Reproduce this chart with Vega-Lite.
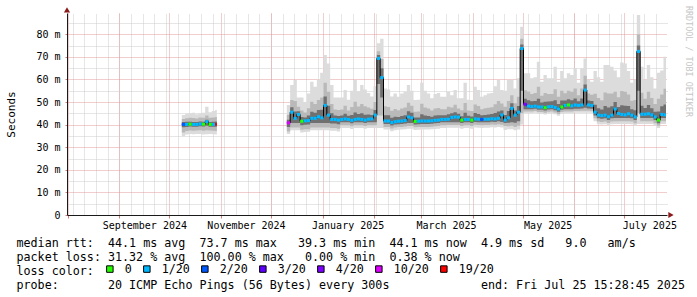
{
  "$schema": "https://vega.github.io/schema/vega-lite/v6.json",
  "width": 600,
  "height": 202,
  "autosize": {"type": "none"},
  "padding": {"left": 67, "top": 13, "right": 30, "bottom": 82},
  "background": "#ffffff",
  "config": {
    "view": {"stroke": null},
    "font": "DejaVu Sans Mono",
    "axis": {"labelFont": "DejaVu Sans Mono", "titleFont": "DejaVu Sans Mono", "titleFontWeight": "normal", "labelColor": "#000000", "titleColor": "#000000"}
  },
  "data": {
    "format": {"parse": {"t": "date"}},
    "values": [
      {"t":"2024-10-08T12:00:00Z","s":1,"m":40.1,"a":34.8,"b":36.5,"c":38.8,"d":41.2,"e":42.5,"f":44.3,"l":"2/20"},
      {"t":"2024-10-10T12:00:00Z","s":1,"m":40.1,"a":35.6,"b":37.2,"c":39.0,"d":41.3,"e":42.8,"f":44.8,"l":"1/20"},
      {"t":"2024-10-12T12:00:00Z","s":1,"m":40.2,"a":35.8,"b":37.4,"c":39.2,"d":41.3,"e":43.0,"f":45.0,"l":"0"},
      {"t":"2024-10-14T12:00:00Z","s":1,"m":40.1,"a":35.7,"b":37.3,"c":39.1,"d":41.2,"e":42.9,"f":45.2,"l":"1/20"},
      {"t":"2024-10-16T12:00:00Z","s":1,"m":40.1,"a":35.9,"b":37.4,"c":39.1,"d":41.2,"e":42.7,"f":44.6,"l":"1/20"},
      {"t":"2024-10-18T12:00:00Z","s":1,"m":40.3,"a":35.8,"b":37.5,"c":39.3,"d":41.4,"e":43.1,"f":45.0,"l":"1/20"},
      {"t":"2024-10-20T12:00:00Z","s":1,"m":40.2,"a":35.6,"b":37.3,"c":39.2,"d":41.3,"e":43.0,"f":45.3,"l":"0"},
      {"t":"2024-10-22T12:00:00Z","s":1,"m":41.3,"a":35.7,"b":37.5,"c":39.5,"d":42.2,"e":44.0,"f":47.9,"l":"1/20"},
      {"t":"2024-10-24T12:00:00Z","s":1,"m":40.1,"a":35.8,"b":37.4,"c":39.1,"d":41.2,"e":43.0,"f":45.5,"l":"0"},
      {"t":"2024-10-26T12:00:00Z","s":1,"m":40.1,"a":35.7,"b":37.3,"c":39.1,"d":41.3,"e":43.2,"f":46.0,"l":"1/20"},
      {"t":"2024-10-28T12:00:00Z","s":1,"m":40.2,"a":35.6,"b":37.2,"c":39.1,"d":41.4,"e":43.4,"f":46.5,"l":"19/20"},
      {"t":"2024-10-29T12:00:00Z","s":1,"m":40.2,"a":35.6,"b":37.2,"c":39.1,"d":41.4,"e":43.4,"f":46.5,"l":"19/20"},
      {"t":"2024-12-10T12:00:00Z","s":2,"m":40.8,"a":35.8,"b":37.0,"c":39.0,"d":42.2,"e":44.4,"f":48.7,"l":"10/20"},
      {"t":"2024-12-12T12:00:00Z","s":2,"m":45.5,"a":37.5,"b":38.7,"c":40.7,"d":47.7,"e":50.9,"f":57.5,"l":"1/20"},
      {"t":"2024-12-14T12:00:00Z","s":2,"m":42.8,"a":37.5,"b":38.7,"c":40.7,"d":45.8,"e":50.4,"f":59.7,"l":"1/20"},
      {"t":"2024-12-16T12:00:00Z","s":2,"m":44.5,"a":37.5,"b":38.7,"c":40.7,"d":45.9,"e":47.9,"f":52.0,"l":"1/20"},
      {"t":"2024-12-18T12:00:00Z","s":2,"m":41.5,"a":36.5,"b":37.7,"c":39.7,"d":43.4,"e":46.2,"f":52.0,"l":"0"},
      {"t":"2024-12-20T12:00:00Z","s":2,"m":41.7,"a":36.7,"b":37.9,"c":39.9,"d":43.2,"e":45.4,"f":50.0,"l":"1/20"},
      {"t":"2024-12-22T12:00:00Z","s":2,"m":41.8,"a":36.8,"b":38.0,"c":40.0,"d":44.0,"e":47.2,"f":53.8,"l":"1/20"},
      {"t":"2024-12-24T12:00:00Z","s":2,"m":42.8,"a":37.5,"b":38.7,"c":40.7,"d":45.7,"e":50.1,"f":59.0,"l":"1/20"},
      {"t":"2024-12-26T12:00:00Z","s":2,"m":42.8,"a":37.5,"b":38.7,"c":40.7,"d":45.3,"e":49.1,"f":56.8,"l":"1/20"},
      {"t":"2024-12-28T12:00:00Z","s":2,"m":43.5,"a":37.5,"b":38.7,"c":40.7,"d":46.5,"e":50.9,"f":60.0,"l":"1/20"},
      {"t":"2024-12-30T12:00:00Z","s":2,"m":43.0,"a":37.5,"b":38.7,"c":40.7,"d":46.6,"e":52.0,"f":63.0,"l":"1/20"},
      {"t":"2025-01-01T12:00:00Z","s":2,"m":48.5,"a":37.5,"b":38.7,"c":40.7,"d":52.5,"e":58.5,"f":70.8,"l":"1/20"},
      {"t":"2025-01-03T12:00:00Z","s":2,"m":44.2,"a":37.5,"b":38.7,"c":40.7,"d":48.3,"e":54.5,"f":67.0,"l":"1/20"},
      {"t":"2025-01-05T12:00:00Z","s":2,"m":42.3,"a":37.3,"b":38.5,"c":40.5,"d":45.0,"e":49.1,"f":57.5,"l":"1/20"},
      {"t":"2025-01-07T12:00:00Z","s":2,"m":42.3,"a":37.3,"b":38.5,"c":40.5,"d":44.0,"e":46.7,"f":52.0,"l":"1/20"},
      {"t":"2025-01-09T12:00:00Z","s":2,"m":42.0,"a":37.0,"b":38.2,"c":40.2,"d":43.8,"e":46.5,"f":52.0,"l":"1/20"},
      {"t":"2025-01-11T12:00:00Z","s":2,"m":42.3,"a":38.5,"b":39.7,"c":41.0,"d":44.0,"e":46.7,"f":52.0,"l":"1/20"},
      {"t":"2025-01-13T12:00:00Z","s":2,"m":42.5,"a":38.5,"b":39.7,"c":41.0,"d":44.8,"e":48.3,"f":55.3,"l":"1/20"},
      {"t":"2025-01-15T12:00:00Z","s":2,"m":42.3,"a":38.5,"b":39.7,"c":41.0,"d":43.9,"e":46.2,"f":51.0,"l":"1/20"},
      {"t":"2025-01-17T12:00:00Z","s":2,"m":41.9,"a":38.1,"b":39.3,"c":40.6,"d":44.3,"e":47.8,"f":55.0,"l":"1/20"},
      {"t":"2025-01-19T12:00:00Z","s":2,"m":42.3,"a":38.5,"b":39.7,"c":41.0,"d":45.4,"e":50.1,"f":59.7,"l":"1/20"},
      {"t":"2025-01-21T12:00:00Z","s":2,"m":42.5,"a":38.5,"b":39.7,"c":41.0,"d":44.7,"e":48.0,"f":54.8,"l":"1/20"},
      {"t":"2025-01-23T12:00:00Z","s":2,"m":42.3,"a":38.5,"b":39.7,"c":41.0,"d":45.0,"e":49.1,"f":57.5,"l":"1/20"},
      {"t":"2025-01-25T12:00:00Z","s":2,"m":42.0,"a":38.2,"b":39.4,"c":40.7,"d":44.4,"e":48.1,"f":55.5,"l":"1/20"},
      {"t":"2025-01-27T12:00:00Z","s":2,"m":42.4,"a":38.5,"b":39.7,"c":41.0,"d":44.5,"e":47.6,"f":54.0,"l":"1/20"},
      {"t":"2025-01-29T12:00:00Z","s":2,"m":42.5,"a":38.5,"b":39.7,"c":41.0,"d":44.3,"e":47.0,"f":52.5,"l":"1/20"},
      {"t":"2025-01-31T12:00:00Z","s":2,"m":44.2,"a":38.5,"b":39.7,"c":41.0,"d":46.5,"e":50.0,"f":57.0,"l":"1/20"},
      {"t":"2025-02-02T12:00:00Z","s":2,"m":69.3,"a":38.5,"b":44.0,"c":58.0,"d":70.8,"e":72.5,"f":76.0,"l":"1/20"},
      {"t":"2025-02-04T12:00:00Z","s":2,"m":60.8,"a":38.5,"b":44.0,"c":52.0,"d":65.0,"e":69.0,"f":78.0,"l":"1/20"},
      {"t":"2025-02-06T12:00:00Z","s":2,"m":41.6,"a":37.8,"b":39.0,"c":40.3,"d":44.2,"e":48.1,"f":56.0,"l":"1/20"},
      {"t":"2025-02-08T12:00:00Z","s":2,"m":41.6,"a":37.8,"b":39.0,"c":40.3,"d":44.1,"e":47.8,"f":55.5,"l":"1/20"},
      {"t":"2025-02-10T12:00:00Z","s":2,"m":40.9,"a":37.1,"b":38.3,"c":39.6,"d":43.0,"e":46.1,"f":52.5,"l":"1/20"},
      {"t":"2025-02-12T12:00:00Z","s":2,"m":41.3,"a":37.5,"b":38.7,"c":40.0,"d":43.5,"e":46.9,"f":53.8,"l":"1/20"},
      {"t":"2025-02-14T12:00:00Z","s":2,"m":41.5,"a":37.7,"b":38.9,"c":40.2,"d":43.4,"e":46.4,"f":52.3,"l":"1/20"},
      {"t":"2025-02-16T12:00:00Z","s":2,"m":41.6,"a":37.8,"b":39.0,"c":40.3,"d":43.8,"e":47.1,"f":53.8,"l":"1/20"},
      {"t":"2025-02-18T12:00:00Z","s":2,"m":41.8,"a":38.0,"b":39.2,"c":40.5,"d":44.1,"e":47.6,"f":54.6,"l":"1/20"},
      {"t":"2025-02-20T12:00:00Z","s":2,"m":43.4,"a":38.2,"b":39.4,"c":40.7,"d":45.9,"e":49.7,"f":57.5,"l":"1/20"},
      {"t":"2025-02-22T12:00:00Z","s":2,"m":43.0,"a":38.2,"b":39.4,"c":40.7,"d":45.2,"e":48.4,"f":55.0,"l":"1/20"},
      {"t":"2025-02-24T12:00:00Z","s":2,"m":41.4,"a":37.6,"b":38.8,"c":40.1,"d":43.1,"e":45.7,"f":50.9,"l":"0"},
      {"t":"2025-02-26T12:00:00Z","s":2,"m":41.5,"a":37.7,"b":38.9,"c":40.2,"d":43.2,"e":45.8,"f":51.0,"l":"1/20"},
      {"t":"2025-02-28T12:00:00Z","s":2,"m":41.6,"a":37.8,"b":39.0,"c":40.3,"d":44.6,"e":49.2,"f":58.5,"l":"1/20"},
      {"t":"2025-03-02T12:00:00Z","s":2,"m":41.6,"a":37.8,"b":39.0,"c":40.3,"d":44.0,"e":47.6,"f":55.0,"l":"1/20"},
      {"t":"2025-03-04T12:00:00Z","s":2,"m":41.6,"a":37.8,"b":39.0,"c":40.3,"d":43.8,"e":47.1,"f":53.8,"l":"1/20"},
      {"t":"2025-03-06T12:00:00Z","s":2,"m":41.7,"a":37.9,"b":39.1,"c":40.4,"d":43.5,"e":46.2,"f":51.7,"l":"1/20"},
      {"t":"2025-03-08T12:00:00Z","s":2,"m":41.9,"a":38.1,"b":39.3,"c":40.6,"d":44.0,"e":47.1,"f":53.5,"l":"1/20"},
      {"t":"2025-03-10T12:00:00Z","s":2,"m":42.0,"a":38.2,"b":39.4,"c":40.7,"d":44.2,"e":47.4,"f":54.0,"l":"1/20"},
      {"t":"2025-03-12T12:00:00Z","s":2,"m":42.3,"a":38.5,"b":39.7,"c":41.0,"d":44.1,"e":46.8,"f":52.3,"l":"1/20"},
      {"t":"2025-03-14T12:00:00Z","s":2,"m":42.3,"a":38.5,"b":39.7,"c":41.0,"d":44.1,"e":46.8,"f":52.3,"l":"1/20"},
      {"t":"2025-03-16T12:00:00Z","s":2,"m":42.4,"a":38.6,"b":39.8,"c":41.1,"d":44.6,"e":47.9,"f":54.6,"l":"1/20"},
      {"t":"2025-03-18T12:00:00Z","s":2,"m":43.2,"a":38.6,"b":39.8,"c":41.1,"d":45.0,"e":47.6,"f":53.0,"l":"1/20"},
      {"t":"2025-03-20T12:00:00Z","s":2,"m":43.4,"a":38.6,"b":39.8,"c":41.1,"d":45.5,"e":48.8,"f":55.3,"l":"1/20"},
      {"t":"2025-03-22T12:00:00Z","s":2,"m":43.3,"a":38.6,"b":39.8,"c":41.1,"d":44.8,"e":47.1,"f":51.7,"l":"1/20"},
      {"t":"2025-03-24T12:00:00Z","s":2,"m":42.0,"a":38.2,"b":39.4,"c":40.7,"d":43.7,"e":46.4,"f":51.7,"l":"0"},
      {"t":"2025-03-26T12:00:00Z","s":2,"m":42.3,"a":38.5,"b":39.7,"c":41.0,"d":45.2,"e":49.6,"f":58.5,"l":"1/20"},
      {"t":"2025-03-28T12:00:00Z","s":2,"m":42.3,"a":38.5,"b":39.7,"c":41.0,"d":43.9,"e":46.2,"f":51.0,"l":"1/20"},
      {"t":"2025-03-30T12:00:00Z","s":2,"m":42.0,"a":38.2,"b":39.4,"c":40.7,"d":43.6,"e":46.0,"f":50.9,"l":"0"},
      {"t":"2025-04-01T12:00:00Z","s":2,"m":42.5,"a":38.7,"b":39.9,"c":41.2,"d":45.1,"e":48.9,"f":56.8,"l":"1/20"},
      {"t":"2025-04-03T12:00:00Z","s":2,"m":42.4,"a":38.6,"b":39.8,"c":41.1,"d":44.7,"e":48.2,"f":55.3,"l":"1/20"},
      {"t":"2025-04-05T12:00:00Z","s":2,"m":42.3,"a":38.5,"b":39.7,"c":41.0,"d":44.1,"e":46.8,"f":52.3,"l":"2/20"},
      {"t":"2025-04-07T12:00:00Z","s":2,"m":42.4,"a":38.6,"b":39.8,"c":41.1,"d":44.3,"e":47.2,"f":53.0,"l":"1/20"},
      {"t":"2025-04-09T12:00:00Z","s":2,"m":42.4,"a":38.6,"b":39.8,"c":41.1,"d":44.5,"e":47.5,"f":53.8,"l":"1/20"},
      {"t":"2025-04-11T12:00:00Z","s":2,"m":42.6,"a":38.8,"b":40.0,"c":41.3,"d":44.7,"e":47.7,"f":54.0,"l":"1/20"},
      {"t":"2025-04-13T12:00:00Z","s":2,"m":42.5,"a":38.7,"b":39.9,"c":41.2,"d":45.1,"e":49.0,"f":57.0,"l":"1/20"},
      {"t":"2025-04-15T12:00:00Z","s":2,"m":42.8,"a":39.0,"b":40.2,"c":41.5,"d":45.8,"e":50.4,"f":59.7,"l":"1/20"},
      {"t":"2025-04-17T12:00:00Z","s":2,"m":44.3,"a":38.7,"b":39.9,"c":41.2,"d":46.3,"e":49.3,"f":55.3,"l":"1/20"},
      {"t":"2025-04-19T12:00:00Z","s":2,"m":42.0,"a":37.6,"b":39.4,"c":40.7,"d":44.3,"e":47.9,"f":55.0,"l":"1/20"},
      {"t":"2025-04-21T12:00:00Z","s":2,"m":43.0,"a":38.0,"b":39.3,"c":40.8,"d":46.0,"e":50.5,"f":59.7,"l":"1/20"},
      {"t":"2025-04-23T12:00:00Z","s":2,"m":47.2,"a":38.0,"b":39.5,"c":41.0,"d":49.5,"e":53.0,"f":60.0,"l":"1/20"},
      {"t":"2025-04-25T12:00:00Z","s":2,"m":44.2,"a":37.5,"b":39.0,"c":40.8,"d":46.3,"e":49.5,"f":56.0,"l":"1/20"},
      {"t":"2025-04-27T12:00:00Z","s":2,"m":45.5,"a":37.8,"b":39.5,"c":41.5,"d":48.2,"e":52.3,"f":60.5,"l":"1/20"},
      {"t":"2025-04-29T12:00:00Z","s":2,"m":73.7,"a":40.0,"b":45.0,"c":55.0,"d":75.5,"e":78.0,"f":83.3,"l":"1/20"},
      {"t":"2025-05-01T12:00:00Z","s":2,"m":49.0,"a":45.0,"b":45.8,"c":46.8,"d":51.5,"e":55.2,"f":62.7,"l":"4/20"},
      {"t":"2025-05-03T12:00:00Z","s":2,"m":48.2,"a":45.0,"b":45.8,"c":46.8,"d":50.8,"e":54.7,"f":62.7,"l":"1/20"},
      {"t":"2025-05-05T12:00:00Z","s":2,"m":48.0,"a":45.0,"b":45.8,"c":46.8,"d":50.3,"e":53.6,"f":60.5,"l":"1/20"},
      {"t":"2025-05-07T12:00:00Z","s":2,"m":48.2,"a":45.2,"b":46.0,"c":47.0,"d":50.5,"e":54.0,"f":61.0,"l":"1/20"},
      {"t":"2025-05-09T12:00:00Z","s":2,"m":47.8,"a":44.8,"b":45.6,"c":46.6,"d":51.4,"e":56.8,"f":67.8,"l":"1/20"},
      {"t":"2025-05-11T12:00:00Z","s":2,"m":47.8,"a":44.8,"b":45.6,"c":46.6,"d":49.8,"e":52.8,"f":59.0,"l":"1/20"},
      {"t":"2025-05-13T12:00:00Z","s":2,"m":47.5,"a":44.5,"b":45.3,"c":46.3,"d":50.1,"e":54.0,"f":62.0,"l":"0"},
      {"t":"2025-05-15T12:00:00Z","s":2,"m":47.9,"a":44.9,"b":45.7,"c":46.7,"d":50.2,"e":53.6,"f":60.5,"l":"1/20"},
      {"t":"2025-05-17T12:00:00Z","s":2,"m":48.0,"a":45.0,"b":45.8,"c":46.8,"d":50.3,"e":53.6,"f":60.5,"l":"1/20"},
      {"t":"2025-05-19T12:00:00Z","s":2,"m":47.6,"a":44.6,"b":45.4,"c":46.4,"d":50.8,"e":55.7,"f":65.6,"l":"1/20"},
      {"t":"2025-05-21T12:00:00Z","s":2,"m":46.9,"a":43.9,"b":44.7,"c":45.7,"d":49.1,"e":52.3,"f":59.0,"l":"1/20"},
      {"t":"2025-05-23T12:00:00Z","s":2,"m":47.8,"a":44.8,"b":45.6,"c":46.6,"d":50.7,"e":55.0,"f":63.7,"l":"0"},
      {"t":"2025-05-25T12:00:00Z","s":2,"m":48.5,"a":45.0,"b":45.8,"c":46.8,"d":50.7,"e":53.9,"f":60.5,"l":"1/20"},
      {"t":"2025-05-27T12:00:00Z","s":2,"m":48.7,"a":45.0,"b":45.8,"c":46.8,"d":51.2,"e":55.0,"f":62.7,"l":"0"},
      {"t":"2025-05-29T12:00:00Z","s":2,"m":48.3,"a":45.0,"b":45.8,"c":46.8,"d":50.8,"e":54.5,"f":62.0,"l":"1/20"},
      {"t":"2025-05-31T12:00:00Z","s":2,"m":48.7,"a":45.2,"b":46.0,"c":47.0,"d":51.6,"e":56.0,"f":64.9,"l":"1/20"},
      {"t":"2025-06-02T12:00:00Z","s":2,"m":48.5,"a":45.2,"b":46.0,"c":47.0,"d":50.3,"e":53.0,"f":58.5,"l":"1/20"},
      {"t":"2025-06-04T12:00:00Z","s":2,"m":48.7,"a":45.3,"b":46.1,"c":47.1,"d":51.6,"e":56.0,"f":64.9,"l":"1/20"},
      {"t":"2025-06-06T12:00:00Z","s":2,"m":55.3,"a":45.3,"b":46.1,"c":47.5,"d":57.8,"e":61.6,"f":69.3,"l":"1/20"},
      {"t":"2025-06-08T12:00:00Z","s":2,"m":48.7,"a":45.3,"b":46.1,"c":47.1,"d":50.7,"e":53.8,"f":60.0,"l":"1/20"},
      {"t":"2025-06-10T12:00:00Z","s":2,"m":48.5,"a":45.2,"b":46.0,"c":47.0,"d":50.4,"e":53.2,"f":59.0,"l":"1/20"},
      {"t":"2025-06-12T12:00:00Z","s":2,"m":45.5,"a":41.5,"b":42.8,"c":44.0,"d":48.8,"e":53.7,"f":63.7,"l":"1/20"},
      {"t":"2025-06-14T12:00:00Z","s":2,"m":44.2,"a":40.2,"b":41.4,"c":42.8,"d":47.2,"e":51.8,"f":61.0,"l":"1/20"},
      {"t":"2025-06-16T12:00:00Z","s":2,"m":44.0,"a":40.0,"b":41.2,"c":42.6,"d":46.7,"e":50.8,"f":59.0,"l":"1/20"},
      {"t":"2025-06-18T12:00:00Z","s":2,"m":44.2,"a":40.2,"b":41.4,"c":42.8,"d":48.2,"e":54.2,"f":66.4,"l":"1/20"},
      {"t":"2025-06-20T12:00:00Z","s":2,"m":43.5,"a":39.5,"b":40.7,"c":42.1,"d":47.6,"e":53.8,"f":66.4,"l":"1/20"},
      {"t":"2025-06-22T12:00:00Z","s":2,"m":44.2,"a":40.2,"b":41.4,"c":42.8,"d":48.1,"e":53.8,"f":65.6,"l":"1/20"},
      {"t":"2025-06-24T12:00:00Z","s":2,"m":46.9,"a":40.3,"b":41.5,"c":42.9,"d":50.0,"e":54.6,"f":64.0,"l":"1/20"},
      {"t":"2025-06-26T12:00:00Z","s":2,"m":44.9,"a":40.3,"b":41.5,"c":42.9,"d":47.8,"e":52.1,"f":61.0,"l":"1/20"},
      {"t":"2025-06-28T12:00:00Z","s":2,"m":44.5,"a":40.3,"b":41.5,"c":42.9,"d":48.6,"e":54.9,"f":67.5,"l":"1/20"},
      {"t":"2025-06-30T12:00:00Z","s":2,"m":44.3,"a":40.3,"b":41.5,"c":42.9,"d":48.4,"e":54.5,"f":67.0,"l":"1/20"},
      {"t":"2025-07-02T12:00:00Z","s":2,"m":44.8,"a":40.3,"b":41.5,"c":42.9,"d":48.2,"e":53.3,"f":63.7,"l":"1/20"},
      {"t":"2025-07-04T12:00:00Z","s":2,"m":44.2,"a":40.2,"b":41.4,"c":42.8,"d":46.8,"e":50.6,"f":58.5,"l":"1/20"},
      {"t":"2025-07-06T12:00:00Z","s":2,"m":43.4,"a":39.4,"b":40.6,"c":42.0,"d":46.4,"e":50.9,"f":60.0,"l":"1/20"},
      {"t":"2025-07-08T12:00:00Z","s":2,"m":72.4,"a":40.3,"b":45.0,"c":55.0,"d":75.0,"e":80.0,"f":88.5,"l":"1/20"},
      {"t":"2025-07-10T12:00:00Z","s":2,"m":44.6,"a":40.3,"b":41.5,"c":42.9,"d":48.4,"e":54.1,"f":65.6,"l":"1/20"},
      {"t":"2025-07-12T12:00:00Z","s":2,"m":44.6,"a":40.3,"b":41.5,"c":42.9,"d":47.4,"e":51.5,"f":60.0,"l":"1/20"},
      {"t":"2025-07-14T12:00:00Z","s":2,"m":44.8,"a":40.3,"b":41.5,"c":42.9,"d":48.7,"e":54.5,"f":66.4,"l":"1/20"},
      {"t":"2025-07-16T12:00:00Z","s":2,"m":44.3,"a":40.3,"b":41.5,"c":42.9,"d":47.3,"e":51.8,"f":61.0,"l":"1/20"},
      {"t":"2025-07-18T12:00:00Z","s":2,"m":43.4,"a":39.4,"b":40.6,"c":42.0,"d":45.7,"e":49.1,"f":56.0,"l":"1/20"},
      {"t":"2025-07-20T12:00:00Z","s":2,"m":42.0,"a":38.5,"b":39.5,"c":40.6,"d":45.8,"e":51.5,"f":63.0,"l":"0"},
      {"t":"2025-07-22T12:00:00Z","s":2,"m":44.5,"a":40.3,"b":41.5,"c":42.9,"d":48.1,"e":53.3,"f":64.0,"l":"1/20"},
      {"t":"2025-07-24T12:00:00Z","s":2,"m":44.3,"a":40.3,"b":41.5,"c":42.9,"d":48.9,"e":55.9,"f":70.0,"l":"1/20"},
      {"t":"2025-07-26T00:00:00Z","s":2,"m":44.3,"a":40.3,"b":41.5,"c":42.9,"d":48.9,"e":55.9,"f":70.0,"l":"1/20"}
    ]
  },
  "layer": [
    {
      "mark": {"type": "area", "interpolate": "step-after", "color": "#dcdcdc"},
      "encoding": {
        "x": {
          "field": "t", "type": "temporal",
          "scale": {"type": "utc", "domain": [{"year": 2024, "month": 7, "date": 31, "hours": 14, "minutes": 24, "utc": true}, {"year": 2025, "month": 7, "date": 26, "hours": 14, "minutes": 24, "utc": true}]},
          "axis": {"orient": "top", "tickCount": {"interval": "week", "step": 1}, "grid": true, "gridColor": "#cdcdcd", "gridDash": [1, 1], "labels": false, "ticks": false, "domain": false, "title": null}
        },
        "y": {
          "field": "a", "type": "quantitative",
          "scale": {"domain": [0, 89.4], "nice": false, "zero": false},
          "axis": {"orient": "right", "values": [5, 15, 25, 35, 45, 55, 65, 75, 85], "grid": true, "gridColor": "#cdcdcd", "gridDash": [1, 1], "labels": false, "ticks": false, "domain": false,
            "title": "RRDTOOL / TOBI OETIKER", "titleAngle": 90, "titleColor": "#c6c6c6", "titleFontSize": 8.4, "titleX": 21, "titleY": 48, "titleAlign": "center", "titleBaseline": "middle"}
        },
        "y2": {"field": "f"},
        "detail": {"field": "s", "type": "nominal"}
      }
    },
    {
      "mark": {"type": "area", "interpolate": "step-after", "color": "#b9b9b9"},
      "encoding": {
        "x": {
          "field": "t", "type": "temporal",
          "axis": {"orient": "bottom", "tickCount": {"interval": "month", "step": 1}, "grid": true, "gridColor": "#e39b9b", "gridDash": [1, 1],
            "ticks": true, "tickColor": "#d77b7b", "tickSize": 3, "domain": true, "domainColor": "#1a1a1a",
            "labelExpr": "utcmonth(datum.value) % 2 == 0 ? utcFormat(datum.value, '%B %Y') : ''",
            "labelOffset": 25, "labelFontSize": 10, "labelPadding": 2, "labelFlush": false, "labelOverlap": false, "labelBound": false,
            "title": [
              "median\u00a0rtt:\u00a0\u00a044.1\u00a0ms\u00a0avg\u00a0\u00a073.7\u00a0ms\u00a0max\u00a0\u00a0\u00a039.3\u00a0ms\u00a0min\u00a0\u00a044.1\u00a0ms\u00a0now\u00a0\u00a04.9\u00a0ms\u00a0sd\u00a0\u00a0\u00a09.0\u00a0\u00a0\u00a0am/s",
              "packet\u00a0loss:\u00a031.32\u00a0%\u00a0avg\u00a0\u00a0100.00\u00a0%\u00a0max\u00a0\u00a0\u00a00.00\u00a0%\u00a0min\u00a0\u00a00.38\u00a0%\u00a0now",
              "loss\u00a0color:",
              "probe:\u00a0\u00a0\u00a0\u00a0\u00a0\u00a0\u00a020\u00a0ICMP\u00a0Echo\u00a0Pings\u00a0(56\u00a0Bytes)\u00a0every\u00a0300s\u00a0\u00a0\u00a0\u00a0\u00a0\u00a0\u00a0\u00a0\u00a0\u00a0\u00a0\u00a0\u00a0end:\u00a0Fri\u00a0Jul\u00a025\u00a015:28:45\u00a02025"
            ],
            "titleX": -51, "titleY": 31, "titleAlign": "left", "titleAnchor": "start", "titleBaseline": "alphabetic", "titleFontSize": 11.7, "titleLineHeight": 14}
        },
        "y": {
          "field": "b", "type": "quantitative",
          "axis": {"orient": "left", "values": [0, 10, 20, 30, 40, 50, 60, 70, 80], "grid": true, "gridColor": "#e39b9b", "gridDash": [1, 1],
            "ticks": true, "tickColor": "#d77b7b", "tickSize": 2, "domain": true, "domainColor": "#1a1a1a",
            "labelExpr": "datum.value == 0 ? '0\u00a0\u00a0' : datum.value + '\u00a0m'", "labelFontSize": 10, "labelPadding": 5,
            "title": "Seconds", "titleFontSize": 11, "titleX": -56, "titleY": 101, "titleAlign": "center", "titleBaseline": "middle", "titleAngle": 270}
        },
        "y2": {"field": "e"},
        "detail": {"field": "s", "type": "nominal"}
      }
    },
    {
      "mark": {"type": "area", "interpolate": "step-after", "color": "#707070"},
      "encoding": {
        "x": {"field": "t", "type": "temporal", "axis": null},
        "y": {"field": "c", "type": "quantitative", "axis": null},
        "y2": {"field": "d"},
        "detail": {"field": "s", "type": "nominal"}
      }
    },
    {
      "mark": {"type": "line", "interpolate": "step-after", "color": "#000000", "strokeWidth": 1},
      "encoding": {
        "x": {"field": "t", "type": "temporal", "axis": null},
        "y": {"field": "m", "type": "quantitative", "axis": null},
        "detail": {"field": "s", "type": "nominal"}
      }
    },
    {
      "transform": [
        {"window": [{"op": "lead", "field": "t", "as": "t2"}], "groupby": ["s"], "sort": [{"field": "t", "order": "ascending"}]},
        {"filter": "datum.t2 != null"}
      ],
      "mark": {"type": "rect", "yOffset": -1.5, "y2Offset": 1.5},
      "encoding": {
        "x": {"field": "t", "type": "temporal", "axis": null},
        "x2": {"field": "t2"},
        "y": {"field": "m", "type": "quantitative", "axis": null},
        "y2": {"field": "m"},
        "color": {
          "field": "l", "type": "nominal",
          "scale": {"domain": ["0", "1/20", "2/20", "3/20", "4/20", "10/20", "19/20"], "range": ["#26ff00", "#00b8ff", "#0059ff", "#5e00ff", "#7e00ff", "#dd00ff", "#ff0000"]},
          "legend": {
            "orient": "none", "legendX": 37, "legendY": 250, "direction": "horizontal", "title": null,
            "labelFont": "DejaVu Sans Mono", "labelFontSize": 11.7, "labelColor": "#000000", "labelOffset": 9,
            "symbolType": "square", "symbolSize": 42, "symbolStrokeColor": "#000000", "symbolStrokeWidth": 1, "symbolOpacity": 1,
            "columnPadding": 9, "padding": 0
          }
        }
      }
    },
    {
      "data": {"values": [{"k": 1}]},
      "mark": {"type": "point", "shape": "triangle-up", "size": 38, "filled": true, "color": "#8b1a1a", "opacity": 1},
      "encoding": {
        "x": {"datum": {"year": 2024, "month": 7, "date": 31, "hours": 14, "minutes": 24, "utc": true}, "type": "temporal", "axis": null},
        "y": {"datum": 90.8, "type": "quantitative", "axis": null}
      }
    },
    {
      "data": {"values": [{"k": 1}]},
      "mark": {"type": "point", "shape": "triangle-right", "size": 38, "filled": true, "color": "#8b1a1a", "opacity": 1},
      "encoding": {
        "x": {"datum": {"year": 2025, "month": 7, "date": 29, "hours": 0, "utc": true}, "type": "temporal", "axis": null},
        "y": {"datum": 0, "type": "quantitative", "axis": null}
      }
    }
  ],
  "resolve": {"axis": {"x": "independent", "y": "independent"}}
}
